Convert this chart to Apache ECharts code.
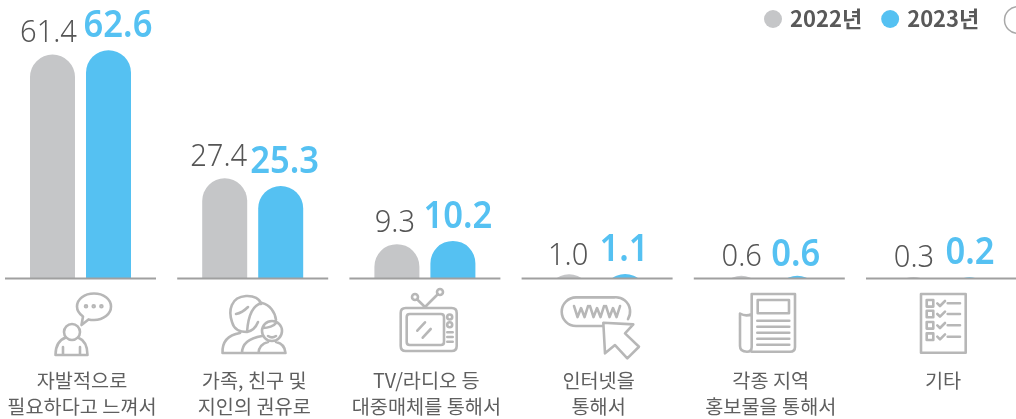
<!DOCTYPE html>
<html>
<head>
<meta charset="utf-8">
<style>
html, body { margin: 0; padding: 0; background: #fff; }
#chart { width: 1016px; height: 419px; }
</style>
<script src="https://cdn.jsdelivr.net/npm/echarts@6/dist/echarts.min.js"></script>
</head>
<body>
<div id="chart"></div>
<script>
var categories = [
	'자발적으로\n필요하다고 느껴서',
	'가족, 친구 및\n지인의 권유로',
	'TV/라디오 등\n대중매체를 통해서',
	'인터넷을\n통해서',
	'각종 지역\n홍보물을 통해서',
	'기타'
];
var values2022 = [61.4, 27.4, 9.3, 1.0, 0.6, 0.3];
var values2023 = [62.6, 25.3, 10.2, 1.1, 0.6, 0.2];

var GRAY = '#c5c6c8';
var BLUE = '#55c1f2';
var ICON = '#b7b7b7';
var FONT = '"Noto Sans CJK KR", "Noto Sans", sans-serif';
var NUM_FONT = '"Noto Sans", "Open Sans", sans-serif';

// labels do not sit exactly above the bars in the original
var grayNudge = [-4, -6, -2, -1, 0.5, 0.5];
var blueNudge = [9.5, 4, 5, -1, -1.5, 0.5];
var grayDrop = [0, 0, 0, 3, 3, 2.5];
var blueDrop = [0, 0, 0, 0, 3, 0];

// icons are written in page pixels, box = x, y, w, h of the drawing
var icons = [
	{ box: [55.5, 293.5, 55.5, 61.5], d: 'M94 293.5C103.5 293.5 111 299 111 306.5C111 314 103.5 320 94 320C92 320 90 319.8 88.5 319.4L81.5 325L83 316.5C79.5 314 77 310.5 77 306.5C77 299 84.5 293.5 94 293.5Z M87 306.3A1 1 0 1 1 85 306.3A1 1 0 1 1 87 306.3Z M94.7 306.3A1 1 0 1 1 92.7 306.3A1 1 0 1 1 94.7 306.3Z M102.4 306.3A1 1 0 1 1 100.4 306.3A1 1 0 1 1 102.4 306.3Z M80 332A8 8 0 1 1 64 332A8 8 0 1 1 80 332Z M55.5 355H87.5C87.5 345 83 339.5 78 337.5 M66 337.5C60 339.5 55.5 345 55.5 355 M63 347V355 M80 347V355' },
	{ box: [222.5, 296, 63, 57], d: 'M232 322C228 310 231 297 246 296C254 295.5 260 299 261 304 M232 322C234 330 240 332 247 332 M236 314C241 313 245 310 248 307 M262 303C252 305 248 318 247 332C252 331 256 327 258 322 M262 303C270 305 275 312 276 320 M282 331A10 10 0 1 1 262 331A10 10 0 1 1 282 331Z M263 328C268 328 274 326 276 323 M268 336C271 338 273 338 276 336 M222.5 353C222 342 228 335 240 333 M242 353C242 343 250 338 262 336 M258.5 353C259 346 264 343 268 342 M276 342C281 343 285 346 285.5 353 M222.5 353H285.5' },
	{ box: [400.7, 289, 56, 62], d: 'M405.7 308H451.7Q456.7 308 456.7 313V346Q456.7 351 451.7 351H405.7Q400.7 351 400.7 346V313Q400.7 308 405.7 308Z M409.7 314H441Q444 314 444 317V342Q444 345 441 345H409.7Q406.7 345 406.7 342V317Q406.7 314 409.7 314Z M417.3 330.7L425 322.3 M422.7 337.7L430.7 329 M425 307L417 299.2 M425 307L438 294 M418 297A3 3 0 1 1 412 297A3 3 0 1 1 418 297Z M443 292A3 3 0 1 1 437 292A3 3 0 1 1 443 292Z M452.2 317A2.5 2.5 0 1 1 447.2 317A2.5 2.5 0 1 1 452.2 317Z M452.2 324.7A2.5 2.5 0 1 1 447.2 324.7A2.5 2.5 0 1 1 452.2 324.7Z M447.3 332.3H452.7 M447.3 337H452.7 M447.3 341.7H452.7' },
	{ box: [561.7, 297.3, 77.3, 61], d: 'M603 326H576A14.35 14.35 0 0 1 576 297.3H614A14.35 14.35 0 0 1 628 319 M603.3 322.7L633.3 324.3L625 333.3L639 346.7L627.3 358.3L615 345L605 353.3Z M574 306L577.5 317L581 308L584.5 317L588 306 M590 306L593.5 317L597 308L600.5 317L604 306 M606 306L609.5 317L613 308L616.5 317L620 306' },
	{ box: [740, 294, 55, 57.7], d: 'M751.7 351.7H790Q795 351.7 795 347V294H751.7V347Q751.7 351.7 747 351.7Q740 351.7 740 346V313.5Q746 317 751.7 314 M757.7 300H789V313.3H757.7Z M757.3 320.7H789.3 M757.3 326.7H789.3 M757.3 332.7H789.3 M757.3 338.7H789.3 M757.3 344.7H789.3' },
	{ box: [921, 294, 44.7, 58.7], d: 'M921 294H965.7V352.7H921Z M926.7 300H933.3V306.6H926.7Z M926.7 310.7H933.3V317.3H926.7Z M926.7 322H933.3V328.6H926.7Z M926.7 333.4H933.3V340H926.7Z M937.3 303.3L940 306L945 301 M937.3 314L940 316.7L945 311.7 M937.3 325.3L940 328L945 323 M937.3 336.7L940 339.4L945 334.4 M947.7 303.3H960 M947.7 314H960 M947.7 325.3H960 M947.7 336.7H960' }
];

function barSeries(name, values, color, side, nudge, drop, labelStyle) {
	return {
		name: name,
		type: 'custom',
		coordinateSystem: 'cartesian2d',
		clip: true,
		silent: true,
		itemStyle: { color: color },
		encode: { x: 0, y: 1 },
		data: values.map(function (v, i) { return [i, v]; }),
		renderItem: function (params, api) {
			var i = api.value(0);
			var top = api.coord([i, api.value(1)]);
			var x = top[0] + side * 28;
			// bar runs on below the axis so that tiny values only show the top of the cap
			return {
				type: 'group',
				children: [{
					type: 'rect',
					shape: { x: x - 22.5, y: top[1], width: 45, height: 300, r: [22.5, 22.5, 0, 0] },
					style: { fill: color }
				}, {
					type: 'text',
					// the original digits are narrower than Noto Sans
					x: x + nudge[i],
					y: top[1] - labelStyle.gap + drop[i],
					scaleX: 0.91,
					style: {
						text: values[i].toFixed(1),
						x: 0,
						y: 0,
						align: 'center',
						verticalAlign: 'bottom',
						fontFamily: NUM_FONT,
						fontSize: labelStyle.size,
						fontWeight: labelStyle.weight,
						fill: labelStyle.color
					}
				}]
			};
		}
	};
}

var chart = echarts.init(document.getElementById('chart'));

var option = {
	animation: false,
	legend: {
		left: 759,
		top: 3,
		itemWidth: 18,
		itemHeight: 18,
		itemGap: 19,
		selectedMode: false,
		textStyle: { fontFamily: FONT, fontSize: 22, fontWeight: 'bold', color: '#595959', padding: [0, 0, 0, 3] },
		data: [
			{ name: '2022년', icon: 'circle' },
			{ name: '2023년', icon: 'circle' }
		]
	},
	grid: { left: -5.6, top: 0, width: 1033.2, height: 278, outerBoundsMode: 'none' },
	xAxis: {
		type: 'category',
		data: categories,
		axisLine: { show: false },
		axisTick: { show: false },
		axisLabel: {
			interval: 0,
			margin: 89,
			padding: [0, 0, 0, 3],
			fontFamily: FONT,
			fontSize: 19.7,
			lineHeight: 26.5,
			color: '#5f5f5f'
		}
	},
	yAxis: {
		type: 'value',
		min: 0,
		max: 76.4,
		show: false
	},
	graphic: [{
		type: 'circle',
		shape: { cx: 1018, cy: 20, r: 13.5 },
		style: { fill: '#fff', stroke: '#a8a8a8', lineWidth: 1.5 }
	}],
	series: [
		barSeries('2022년', values2022, GRAY, -1, grayNudge, grayDrop, { size: 32, weight: 300, color: '#555555', gap: 5.5 }),
		barSeries('2023년', values2023, BLUE, 1, blueNudge, blueDrop, { size: 38, weight: 600, color: BLUE, gap: 5 }),
		{
			// separate baseline under every category, plus the icon below it
			type: 'custom',
			coordinateSystem: 'cartesian2d',
			clip: false,
			silent: true,
			z: 5,
			encode: { x: 0, y: 1 },
			data: categories.map(function (c, i) { return [i, 0]; }),
			renderItem: function (params, api) {
				var i = api.value(0);
				var p = api.coord([i, 0]);
				var ic = icons[i];
				return {
					type: 'group',
					children: [{
						type: 'line',
						shape: { x1: p[0] - 75.5, y1: p[1] + 0.5, x2: p[0] + 75.5, y2: p[1] + 0.5 },
						style: { stroke: '#a0a0a0', lineWidth: 2 }
					}, {
						type: 'path',
						shape: { pathData: ic.d, x: ic.box[0], y: ic.box[1], width: ic.box[2], height: ic.box[3], layout: 'cover' },
						style: { fill: 'none', stroke: ICON, lineWidth: 2.6, lineCap: 'round', lineJoin: 'round' }
					}]
				};
			}
		}
	]
};

chart.setOption(option);
</script>
</body>
</html>
